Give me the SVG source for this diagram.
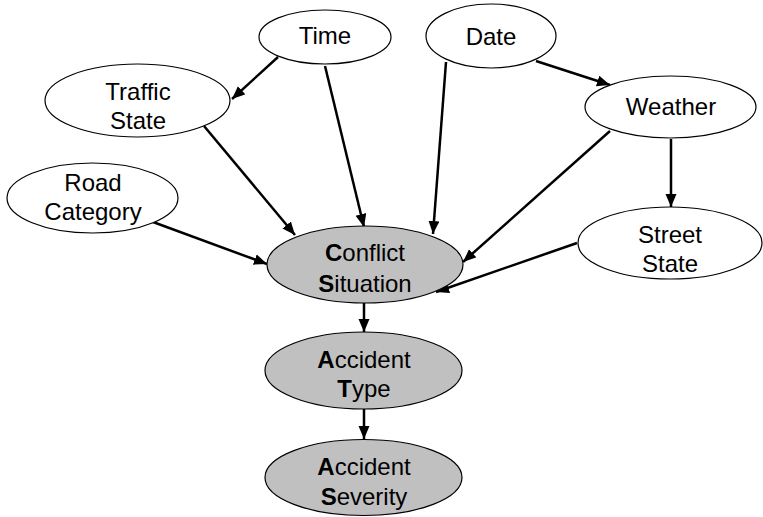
<svg xmlns="http://www.w3.org/2000/svg" width="763" height="517" viewBox="0 0 763 517">
<style>
.n{fill:#ffffff;stroke:#000;stroke-width:1.2}
.g{fill:#c0c0c0;stroke:#000;stroke-width:1.2}
text{font-family:"Liberation Sans",Arial,sans-serif;font-size:24px;fill:#000;text-anchor:middle}
.b{font-weight:bold}
.e{stroke:#000;stroke-width:2.5;fill:none;marker-end:url(#ah)}
</style>
<defs>
<marker id="ah" markerUnits="userSpaceOnUse" markerWidth="14" markerHeight="12" refX="13" refY="5.5" orient="auto">
<path d="M0,0 L13,5.5 L0,11 Z" fill="#000"/>
</marker>
</defs>
<rect width="763" height="517" fill="#fff"/>
<g id="edges">
<line class="e" x1="278" y1="57" x2="232" y2="99"/>
<line class="e" x1="325" y1="66" x2="364" y2="227"/>
<line class="e" x1="204" y1="126" x2="295" y2="235"/>
<line class="e" x1="153" y1="222" x2="267" y2="264"/>
<line class="e" x1="446" y1="62" x2="433" y2="234"/>
<line class="e" x1="536" y1="61" x2="610" y2="85"/>
<line class="e" x1="610" y1="131" x2="463" y2="262"/>
<line class="e" x1="671" y1="139" x2="671" y2="207"/>
<line class="e" x1="577" y1="243" x2="436" y2="292"/>
<line class="e" x1="364" y1="303" x2="364" y2="332"/>
<line class="e" x1="364" y1="409" x2="364" y2="439"/>
</g>
<g id="time"><ellipse class="n" cx="325" cy="37" rx="66" ry="27"/><text x="325" y="44">Time</text></g>
<g id="date"><ellipse class="n" cx="491" cy="36" rx="65" ry="32"/><text x="491" y="45">Date</text></g>
<g id="traffic"><ellipse class="n" cx="137.5" cy="100.5" rx="92.5" ry="36.5"/><text x="138" y="100">Traffic</text><text x="138" y="129">State</text></g>
<g id="weather"><ellipse class="n" cx="670.5" cy="107" rx="85.5" ry="31"/><text x="671" y="115">Weather</text></g>
<g id="road"><ellipse class="n" cx="92.5" cy="198" rx="85.5" ry="35"/><text x="93" y="191">Road</text><text x="93" y="220">Category</text></g>
<g id="street"><ellipse class="n" cx="670" cy="243" rx="92" ry="36"/><text x="670" y="243">Street</text><text x="670" y="272">State</text></g>
<g id="conflict"><ellipse class="g" cx="365" cy="264.5" rx="98" ry="38.5"/><text x="365" y="261"><tspan class="b">C</tspan>onflict</text><text x="365" y="292"><tspan class="b">S</tspan>ituation</text></g>
<g id="acctype"><ellipse class="g" cx="363.5" cy="370.5" rx="98.5" ry="38.5"/><text x="364" y="368"><tspan class="b">A</tspan>ccident</text><text x="364" y="397"><tspan class="b">T</tspan>ype</text></g>
<g id="accsev"><ellipse class="g" cx="363.5" cy="477.5" rx="98.5" ry="38" /><text x="364" y="475"><tspan class="b">A</tspan>ccident</text><text x="364" y="505"><tspan class="b">S</tspan>everity</text></g>
</svg>
